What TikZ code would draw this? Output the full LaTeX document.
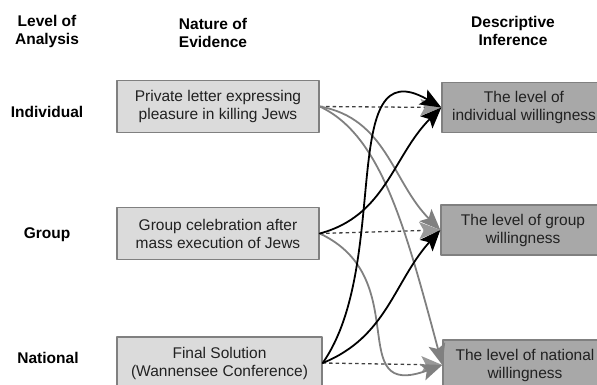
\documentclass[tikz,border=0pt]{standalone}
\usepackage{fontspec}
\setmainfont{Liberation Sans}
\usetikzlibrary{arrows.meta}
\definecolor{lightbox}{rgb}{0.86,0.86,0.86}
\definecolor{darkbox}{rgb}{0.66,0.66,0.66}
\definecolor{boxedge}{rgb}{0.5,0.5,0.5}
\definecolor{curvegrey}{rgb}{0.5,0.5,0.5}
\definecolor{textgrey}{rgb}{0.13,0.13,0.13}

\begin{document}
\begin{tikzpicture}[x=1pt,y=1pt,line cap=round,line join=round,
  font=\fontsize{15.5pt}{18pt}\selectfont,
  head/.style={font=\fontsize{15.5pt}{18pt}\selectfont\bfseries,align=center,text=black},
  evid/.style={draw=boxedge,line width=1.4pt,fill=lightbox,minimum width=202pt,minimum height=52pt,align=center,text=textgrey},
  infer/.style={evid,fill=darkbox,minimum width=164pt,minimum height=50pt},
  down/.style={draw=curvegrey,line width=1.8pt,-{Stealth[length=21pt,width=17pt,inset=4.5pt]}},
  up/.style={draw=black,line width=1.8pt,-{Stealth[length=21pt,width=17pt,inset=4.5pt]}},
  same/.style={draw=black!75,line width=1.3pt,dash pattern=on 3.5pt off 3pt,line cap=butt,-{Stealth[length=21pt,width=17pt,inset=4.5pt,color=curvegrey!80]}}]
\useasboundingbox (0,0) rectangle (597,385);
\clip (0,0) rectangle (597,385);
% column heads
\node[head] (h1) at (47,354) {Level of\\Analysis};
\node[head] (h2) at (213,352) {Nature of\\Evidence};
\node[head] (h3) at (513,354) {Descriptive\\Inference};
% levels
\node[head] (l1) at (47,273) {Individual};
\node[head] (l2) at (47,150) {Group};
\node[head] (l3) at (48,27) {National};
% evidence
\node[evid] (e1) at (218,278.5) {Private letter expressing\\pleasure in killing Jews};
\node[evid] (e2) at (218,151.5) {Group celebration after\\mass execution of Jews};
\node[evid,minimum width=205pt] (e3) at (219.5,22) {Final Solution\\(Wannensee Conference)};
% inference
\node[infer] (d1) at (524,277.5) {The level of\\individual willingness};
\node[infer] (d2) at (523,155) {The level of group\\willingness};
\node[infer] (d3) at (525,20) {The level of national\\willingness};
% same level
\draw[same] (e1.east) -- (d1.west);
\draw[same] (e2.east) -- (d2.west);
\draw[same] (e3.east) -- (d3.west);
% downward
\draw[down] (e1.east) to[out=-10,in=135] (d2.west);
\draw[down] (e1.east) to[out=-25,in=105,out looseness=0.6,in looseness=1.3] (d3.west);
\draw[down] (e2.east) to[out=-25,in=-160,looseness=1.5] (d3.west);
% upward
\draw[up] (e2.east) to[out=15,in=-135] (d1.west);
\draw[up] (e3.east) to[out=55,in=150,looseness=1.1] (d1.west);
\draw[up] (e3.east) to[out=22,in=-132] (d2.west);
\end{tikzpicture}
\end{document}
